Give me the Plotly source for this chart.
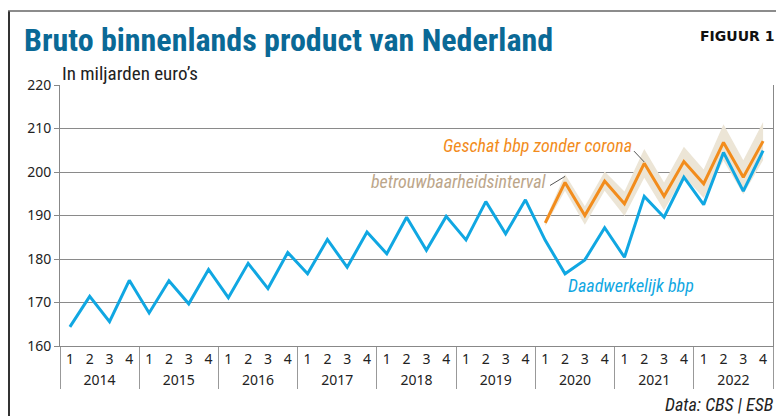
import plotly.graph_objects as go

years = ["2014", "2015", "2016", "2017", "2018", "2019", "2020", "2021", "2022"]
quarter_labels = ["1", "2", "3", "4"]

actual_gdp = [164.4, 171.4, 165.6, 175.1,
              167.6, 175.0, 169.7, 177.6,
              171.1, 179.0, 173.2, 181.5,
              176.6, 184.5, 178.1, 186.2,
              181.2, 189.6, 182.0, 189.8,
              184.4, 193.2, 185.8, 193.6,
              184.3, 176.6, 179.8, 187.2,
              180.4, 194.4, 189.6, 198.8,
              192.5, 204.5, 195.6, 204.9]

estimate_years = ["2020", "2021", "2022"]
estimate_gdp = [188.3, 197.6, 190.0, 197.9,
                192.7, 202.0, 194.4, 202.4,
                197.3, 206.8, 198.8, 207.1]
estimate_margin = [0.7, 1.9, 2.1, 2.2,
                   2.8, 3.3, 3.2, 3.4,
                   3.3, 4.2, 3.9, 4.4]

y_ticks = [160, 170, 180, 190, 200, 210, 220]

BLUE = "#10a7e2"
ORANGE = "#f28c1c"
BAND = "#ece5d6"
TAN = "#bca68a"
TITLE = "#0a6996"

x_all = [[y for y in years for _ in quarter_labels], [q for _ in years for q in quarter_labels]]
x_est = [[y for y in estimate_years for _ in quarter_labels], [q for _ in estimate_years for q in quarter_labels]]
upper = [v + m for v, m in zip(estimate_gdp, estimate_margin)]
lower = [v - m for v, m in zip(estimate_gdp, estimate_margin)]

fig = go.Figure()
# invisible trace first so the category order follows the full period
fig.add_trace(go.Scatter(x=x_all, y=actual_gdp, mode="lines", line=dict(width=0, color="rgba(0,0,0,0)"),
                         hoverinfo="skip", showlegend=False))
fig.add_trace(go.Scatter(x=x_est, y=upper, mode="lines", line=dict(width=0, color=BAND),
                         hoverinfo="skip", showlegend=False))
fig.add_trace(go.Scatter(x=x_est, y=lower, mode="lines", line=dict(width=0, color=BAND),
                         fill="tonexty", fillcolor=BAND, hoverinfo="skip", showlegend=False))
fig.add_trace(go.Scatter(x=x_est, y=estimate_gdp, mode="lines",
                         line=dict(color=ORANGE, width=3), showlegend=False))
fig.add_trace(go.Scatter(x=x_all, y=actual_gdp, mode="lines",
                         line=dict(color=BLUE, width=3), showlegend=False))

n = len(actual_gdp)
est_start = n - len(estimate_gdp)


def px(i):
    return (i + 0.5) / n


# the page has an 8px body margin: the figure origin sits at screen (8, 8)
OFF = 8
W, H = 784 - OFF, 416 - OFF
L, R, T, B = 60 - OFF, 11, 85 - OFF, 416 - 346
pw, ph = W - L - R, H - T - B


def paper_x(s):
    return (s - OFF - L) / pw


def paper_y(s):
    return (H - B - (s - OFF)) / ph


condensed = "Roboto Condensed, Liberation Sans Narrow, DejaVu Sans Condensed, Roboto, sans-serif"

annotations = [
    dict(text="Geschat bbp zonder corona", xref="paper", yref="y", x=paper_x(634), y=206.1,
         xanchor="right", yanchor="middle", showarrow=False,
         font=dict(family=condensed, size=18, color=ORANGE, style="italic")),
    dict(text="betrouwbaarheidsinterval", xref="paper", yref="y", x=paper_x(549), y=197.8,
         xanchor="right", yanchor="middle", showarrow=False,
         font=dict(family=condensed, size=18, color=TAN, style="italic")),
    dict(text="Daadwerkelijk bbp", xref="paper", yref="y", x=paper_x(566), y=173.9,
         xanchor="left", yanchor="middle", showarrow=False,
         font=dict(family=condensed, size=18, color=BLUE, style="italic")),
    dict(text="Data: CBS | ESB", xref="paper", yref="paper", x=paper_x(776), y=paper_y(404),
         xanchor="right", yanchor="middle", showarrow=False,
         font=dict(family=condensed, size=18, color="#222", style="italic")),
    dict(text="<b>FIGUUR 1</b>", xref="paper", yref="paper", x=paper_x(776), y=paper_y(36),
         xanchor="right", yanchor="middle", showarrow=False,
         font=dict(family="DejaVu Sans, sans-serif", size=14, color="#111")),
    dict(text="In miljarden euro’s", xref="paper", yref="paper", x=paper_x(60), y=paper_y(73),
         xanchor="left", yanchor="middle", showarrow=False,
         font=dict(family=condensed, size=19, color="#222")),
]

shapes = [
    # leader lines
    dict(type="line", xref="paper", yref="y", x0=paper_x(634), y0=204.8,
         x1=px(est_start + 5), y1=202.3, line=dict(color="#555", width=1)),
    dict(type="line", xref="paper", yref="y", x0=paper_x(550), y0=196.9,
         x1=px(est_start + 1), y1=199.0, line=dict(color="#555", width=1)),
    # frame
    dict(type="line", xref="paper", yref="paper", x0=paper_x(9), y0=paper_y(11),
         x1=paper_x(9), y1=paper_y(420), line=dict(color="#333", width=2)),
    dict(type="line", xref="paper", yref="paper", x0=paper_x(8), y0=paper_y(11),
         x1=paper_x(790), y1=paper_y(11), line=dict(color="#666", width=1.5)),
]

fig.update_layout(
    width=W, height=H,
    margin=dict(l=L, r=R, t=T, b=B),
    paper_bgcolor="white", plot_bgcolor="white",
    title=dict(text="<b>Bruto binnenlands product van Nederland</b>", xref="container", yref="container",
               x=(24 - OFF) / W, y=1 - (40 - OFF) / H, xanchor="left", yanchor="middle",
               font=dict(family=condensed, size=32, color=TITLE)),
    annotations=annotations,
    shapes=shapes,
    showlegend=False,
)
fig.update_xaxes(type="multicategory", range=[-0.5, n - 0.5],
                 showgrid=False, showline=True, linecolor="#888", linewidth=1,
                 mirror=False, ticks="", showdividers=True, dividercolor="#999", dividerwidth=1,
                 tickfont=dict(family="Noto Sans, sans-serif", size=14, color="#222"))
fig.update_yaxes(range=[160, 220], tickvals=y_ticks, showgrid=True, gridcolor="#8a8a8a", gridwidth=1,
                 showline=True, linecolor="#888", linewidth=1, mirror=True,
                 ticks="outside", ticklen=5, tickcolor="#888",
                 tickfont=dict(family="Noto Sans, sans-serif", size=14, color="#222"), zeroline=False)

fig.write_html("out.html")
